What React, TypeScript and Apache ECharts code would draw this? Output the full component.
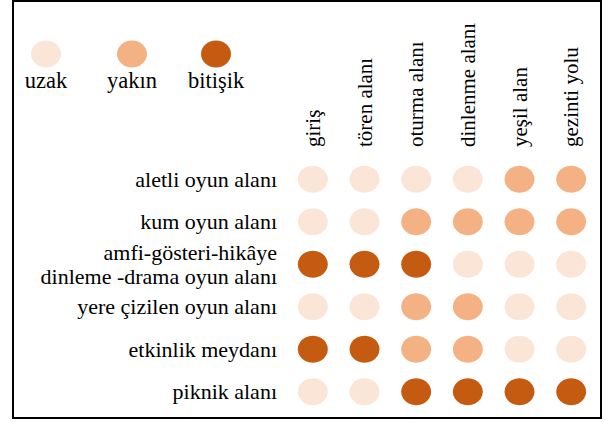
import React, { useEffect, useRef } from "react";
import * as echarts from "echarts";

const columns = ["giriş", "tören alanı", "oturma alanı", "dinlenme alanı", "yeşil alan", "gezinti yolu"];
const rows = [
  "aletli oyun alanı",
  "kum oyun alanı",
  "amfi-gösteri-hikâye\ndinleme -drama oyun alanı",
  "yere çizilen oyun alanı",
  "etkinlik meydanı",
  "piknik alanı",
];
const levels = ["uzak", "yakın", "bitişik"];
const levelColors = ["#FBE5D6", "#F4B183", "#C55A11"];
// 0 = uzak, 1 = yakın, 2 = bitişik
const aletli = [0, 0, 0, 0, 1, 1];
const kum = [0, 0, 1, 1, 1, 1];
const amfi = [2, 2, 2, 0, 0, 0];
const yere = [0, 0, 1, 1, 0, 0];
const etkinlik = [2, 2, 1, 1, 0, 0];
const piknik = [0, 0, 2, 2, 2, 2];
const matrix = [aletli, kum, amfi, yere, etkinlik, piknik];

const FONT = "'Liberation Serif', 'Times New Roman', serif";

export default function App() {
  const ref = useRef<HTMLDivElement>(null);
  useEffect(() => {
    if (!ref.current) return;
    const chart = echarts.init(ref.current, undefined, { renderer: "svg" });
    const series = levels.map((name, li) => {
      const data: number[][] = [];
      matrix.forEach((row, ri) =>
        row.forEach((v, ci) => {
          if (v === li) data.push([ci, ri]);
        })
      );
      return {
        name,
        type: "scatter",
        symbol: "circle",
        symbolSize: [30, 27],
        itemStyle: { color: levelColors[li], opacity: 1 },
        data,
      };
    });
    const legendX = [46, 132, 216];
    const legendGraphics: any[] = [];
    levels.forEach((name, i) => {
      legendGraphics.push({
        type: "ellipse",
        shape: { cx: legendX[i], cy: 54, rx: 15, ry: 13.5 },
        style: { fill: levelColors[i] },
      });
      legendGraphics.push({
        type: "text",
        x: legendX[i],
        y: 80,
        style: {
          text: name,
          fill: "#000",
          font: `22.5px ${FONT}`,
          textAlign: "center",
          textVerticalAlign: "middle",
        },
      });
    });
    chart.setOption({
      animation: false,
      textStyle: { fontFamily: FONT },
      grid: { left: 287, right: 13, top: 158, bottom: 9, containLabel: false },
      xAxis: {
        type: "category",
        position: "top",
        data: columns,
        axisLine: { show: false },
        axisTick: { show: false },
        splitLine: { show: false },
        axisLabel: {
          rotate: -90,
          margin: 11,
          color: "#000",
          fontSize: 21,
          fontFamily: FONT,
          interval: 0,
        },
      },
      yAxis: {
        type: "category",
        inverse: true,
        data: rows,
        axisLine: { show: false },
        axisTick: { show: false },
        splitLine: { show: false },
        axisLabel: {
          margin: 10,
          color: "#000",
          fontSize: 22,
          lineHeight: 24,
          fontFamily: FONT,
          align: "right",
          interval: 0,
        },
      },
      graphic: [
        {
          type: "rect",
          shape: { x: 13, y: 1, width: 588, height: 417 },
          style: { fill: "none", stroke: "#000", lineWidth: 2 },
          z: 100,
        },
        ...legendGraphics,
      ],
      series,
    });
    return () => chart.dispose();
  }, []);
  return (
    <div
      ref={ref}
      style={{ position: "fixed", left: 0, top: 0, width: 610, height: 422, background: "#fff" }}
    />
  );
}
